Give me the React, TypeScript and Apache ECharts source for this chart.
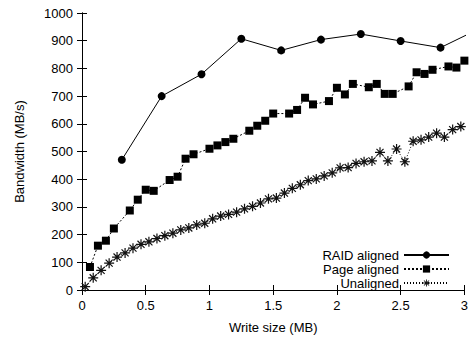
import React, { useEffect, useRef } from "react";
import * as echarts from "echarts";

// Write size (MB) and bandwidth (MB/s)
const raidX = [0.3125, 0.625, 0.9375, 1.25, 1.5625, 1.875, 2.1875, 2.5, 2.8125, 3.125];
const raidY = [470, 700, 779, 907, 865, 904, 924, 899, 875, 945];

const pageX = [
  0.0625, 0.125, 0.1875, 0.25, 0.375, 0.4375, 0.5, 0.5625, 0.6875, 0.75, 0.8125, 0.875,
  1.0, 1.0625, 1.125, 1.1875, 1.3125, 1.375, 1.4375, 1.5, 1.625, 1.6875, 1.75, 1.8125,
  1.9375, 2.0, 2.0625, 2.125, 2.25, 2.3125, 2.375, 2.4375, 2.5625, 2.625, 2.6875, 2.75,
  2.875, 2.9375, 3.0,
];
const pageY = [
  83, 160, 178, 222, 287, 326, 362, 358, 397, 409, 474, 490,
  510, 522, 534, 546, 575, 593, 611, 637, 637, 650, 694, 670,
  682, 730, 706, 744, 732, 744, 708, 708, 735, 786, 780, 795,
  807, 803, 828,
];

const unX = [
  0.025, 0.088, 0.15, 0.213, 0.275, 0.338, 0.4, 0.463, 0.525, 0.588, 0.65, 0.713,
  0.775, 0.838, 0.9, 0.963, 1.025, 1.088, 1.15, 1.213, 1.275, 1.338, 1.4, 1.463,
  1.525, 1.588, 1.65, 1.713, 1.775, 1.838, 1.9, 1.963, 2.025, 2.088, 2.15, 2.213,
  2.275, 2.338, 2.4, 2.468, 2.533, 2.598, 2.66, 2.72, 2.782, 2.843, 2.908, 2.972,
];
const unY = [
  12, 44, 71, 97, 119, 134, 151, 165, 174, 186, 196, 205,
  217, 224, 235, 241, 257, 267, 273, 281, 293, 302, 314, 329,
  332, 350, 367, 380, 395, 401, 412, 423, 441, 442, 457, 463,
  466, 497, 466, 509, 463, 537, 542, 552, 566, 552, 579, 590,
];

const seriesNames = ["RAID aligned", "Page aligned", "Unaligned"];
const xTicks = { min: 0, max: 3, interval: 0.5 };
const yTicks = { min: 0, max: 1000, interval: 100 };

const FONT = "'Liberation Sans', Arial, Helvetica, sans-serif";
// filled asterisk (+ and x) made of four thin bars
const STAR =
  "path://M4.4,0L5.6,0L5.6,10L4.4,10Z" +
  "M0,4.4L10,4.4L10,5.6L0,5.6Z" +
  "M1.9,1.05L8.95,8.1L8.1,8.95L1.05,1.9Z" +
  "M8.1,1.05L8.95,1.9L1.9,8.95L1.05,8.1Z";

const zip = (xs: number[], ys: number[]) => xs.map((x, i) => [x, ys[i]]);

export default function App() {
  const ref = useRef<HTMLDivElement>(null);
  useEffect(() => {
    if (!ref.current) return;
    const chart = echarts.init(ref.current, undefined, { renderer: "svg" });
    const axisLine = { show: true, lineStyle: { color: "#000", width: 1 } };
    const tick = { show: true, inside: true, length: 5, lineStyle: { color: "#000" } };
    const labelStyle = { fontFamily: FONT, fontSize: 13, color: "#000", margin: 9 };
    chart.setOption({
      animation: false,
      backgroundColor: "#fff",
      textStyle: { fontFamily: FONT },
      grid: { left: 82, right: 5, top: 13, bottom: 44, containLabel: false },
      legend: {
        data: seriesNames,
        orient: "vertical",
        right: 21,
        top: 248.5,
        padding: 0,
        align: "right",
        itemWidth: 45,
        itemHeight: 9,
        itemGap: 1,
        textStyle: { fontFamily: FONT, fontSize: 13, color: "#000", lineHeight: 13 },
      },
      xAxis: [
        {
          type: "value",
          ...xTicks,
          position: "bottom",
          name: "Write size (MB)",
          nameLocation: "middle",
          nameGap: 31,
          nameTextStyle: { fontFamily: FONT, fontSize: 13, color: "#000" },
          axisLine,
          axisTick: tick,
          axisLabel: { ...labelStyle, formatter: (v: number) => String(v) },
          splitLine: { show: false },
        },
        {
          type: "value",
          ...xTicks,
          position: "top",
          axisLine,
          axisTick: tick,
          axisLabel: { show: false },
          splitLine: { show: false },
        },
      ],
      yAxis: [
        {
          type: "value",
          ...yTicks,
          position: "left",
          name: "Bandwidth (MB/s)",
          nameLocation: "middle",
          nameGap: 56,
          nameTextStyle: { fontFamily: FONT, fontSize: 13, color: "#000" },
          axisLine,
          axisTick: tick,
          axisLabel: { ...labelStyle, formatter: (v: number) => String(v) },
          splitLine: { show: false },
        },
        {
          type: "value",
          ...yTicks,
          position: "right",
          axisLine,
          axisTick: tick,
          axisLabel: { show: false },
          splitLine: { show: false },
        },
      ],
      series: [
        {
          name: seriesNames[0],
          type: "line",
          data: zip(raidX, raidY),
          symbol: "circle",
          symbolSize: 8,
          clip: true,
          itemStyle: { color: "#000" },
          lineStyle: { color: "#000", width: 1, type: "solid" },
        },
        {
          name: seriesNames[1],
          type: "line",
          data: zip(pageX, pageY),
          symbol: "rect",
          symbolSize: 8,
          clip: true,
          itemStyle: { color: "#000" },
          lineStyle: { color: "#000", width: 1, type: [2, 2] },
        },
        {
          name: seriesNames[2],
          type: "line",
          data: zip(unX, unY),
          symbol: STAR,
          symbolSize: 10,
          clip: true,
          itemStyle: { color: "#111" },
          lineStyle: { color: "#000", width: 1, type: [1, 2] },
        },
      ],
    });
    return () => chart.dispose();
  }, []);
  return (
    <div
      ref={ref}
      style={{ position: "fixed", left: 0, top: 0, width: 471, height: 339, background: "#fff" }}
    />
  );
}
